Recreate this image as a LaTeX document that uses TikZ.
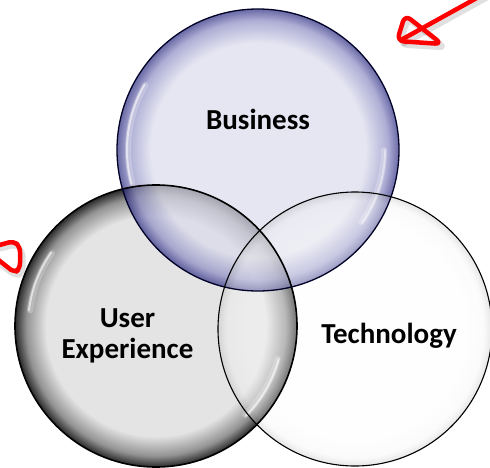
\documentclass[tikz,border=0pt]{standalone}
\usepackage{fontspec}
\setmainfont{Carlito}
\definecolor{bizin}{HTML}{DBDBEC}
\definecolor{bizmid}{HTML}{8C8CC4}
\definecolor{bizout}{HTML}{2A2A80}
\definecolor{uxin}{HTML}{E2E2E2}
\definecolor{uxmid}{HTML}{8A8A8A}
\definecolor{uxout}{HTML}{181818}
\definecolor{tein}{HTML}{FCFCFC}
\definecolor{temid}{HTML}{F2F2F2}
\definecolor{teout}{HTML}{B8B8B8}
\pgfdeclareradialshading{bizshade}{\pgfpoint{0bp}{0bp}}{color(0bp)=(bizin); color(19bp)=(bizin); color(23bp)=(bizmid); color(25bp)=(bizout); color(50bp)=(bizout)}
\pgfdeclareradialshading{uxshade}{\pgfpoint{0bp}{0bp}}{color(0bp)=(uxin); color(19.5bp)=(uxin); color(23bp)=(uxmid); color(25bp)=(uxout); color(50bp)=(uxout)}
\pgfdeclareradialshading{teshade}{\pgfpoint{0bp}{0bp}}{color(0bp)=(tein); color(20bp)=(tein); color(23.5bp)=(temid); color(25bp)=(teout); color(50bp)=(teout)}
\tikzset{
  venn/.style={circle, inner sep=0pt, minimum size=282pt},
  label/.style={font=\fontsize{29}{32}\selectfont\bfseries, align=center, text=black},
  glint/.style={white, line width=2pt, line cap=round, opacity=0.6},
  softglint/.style={white, line width=6pt, line cap=round, opacity=0.25},
  redmark/.style={draw=red, line width=4.5pt, line cap=round, line join=round},
  redshadow/.style={draw=black, line width=5pt, line cap=round, line join=round, opacity=0.12}
}
\begin{document}
\begin{tikzpicture}[x=1pt,y=-1pt]
\useasboundingbox (0,0) rectangle (490,468);
% filled circles
\node[venn, shading=uxshade, fill opacity=0.92] (ux) at (156,326) {};
\node[venn, shading=bizshade, fill opacity=0.7] (biz) at (258,150) {};
\node[venn, minimum size=274pt, shading=teshade, fill opacity=0.35] (tech) at (355,329) {};
% highlights
\draw[softglint] (ux.center) ++(187:127) arc[start angle=187, end angle=215, radius=127];
\draw[glint] (ux.center) ++(187:128) arc[start angle=187, end angle=215, radius=128];
\draw[softglint] (ux.center) ++(15:126) arc[start angle=15, end angle=45, radius=126];
\draw[glint] (ux.center) ++(15:127) arc[start angle=15, end angle=45, radius=127];
\draw[softglint] (biz.center) ++(165:130) arc[start angle=165, end angle=210, radius=130];
\draw[glint] (biz.center) ++(165:131) arc[start angle=165, end angle=210, radius=131];
\draw[softglint] (biz.center) ++(0:126) arc[start angle=0, end angle=35, radius=126];
\draw[glint, opacity=0.45] (biz.center) ++(0:127) arc[start angle=0, end angle=35, radius=127];
\draw[glint, opacity=0.4] (tech.center) ++(-40:125) arc[start angle=-40, end angle=-10, radius=125];
% outlines
\draw[black, line width=1.6pt] (ux.center) circle[radius=141];
\draw[black!85!blue, line width=1.3pt] (biz.center) circle[radius=141];
\draw[black, line width=1.1pt] (tech.center) circle[radius=137];
% labels
\node[label, anchor=base] (tbiz) at (258,129.5) {Business};
\node[label, anchor=base] (tux1) at (127.5,327) {User};
\node[label, anchor=base] (tux2) at (127.5,358) {Experience};
\node[label, anchor=base] (ttech) at (389,343) {Technology};
% red annotation marks
\coordinate (a1) at (484,-6);
\coordinate (a2) at (401,40);
\draw[redshadow] ([shift={(3,4)}]a1) -- ([shift={(3,4)}]a2);
\draw[redshadow, rounded corners=7pt] (408,19) -- (400,45) -- (446,48) -- cycle;
\draw[redmark, rounded corners=7pt] (405,15) -- (397,41) -- (442,44) -- cycle;
\draw[redmark] (a1) -- (a2);
\draw[redshadow, rounded corners=5pt] (-4,250) -- (16,245) -- (23,251) -- (23,272) -- (17,277) -- (-4,262);
\draw[redmark, rounded corners=5pt] (-4,246) -- (14,241) -- (20,247) -- (20,268) -- (15,273) -- (-4,258);
\end{tikzpicture}
\end{document}
